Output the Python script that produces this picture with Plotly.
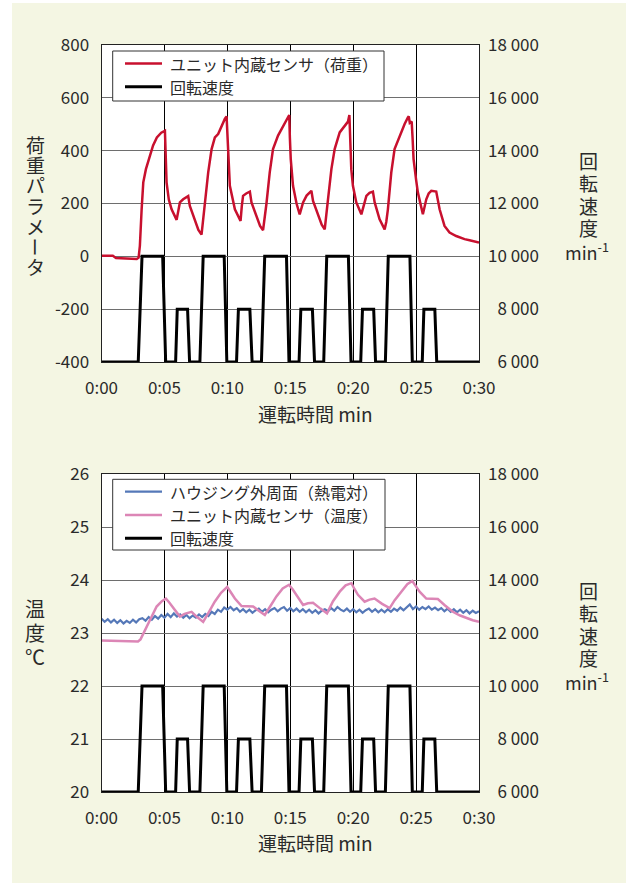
import plotly.graph_objects as go

# ---------------- data ----------------
x_tick_vals = [0, 5, 10, 15, 20, 25, 30]
x_tick_text = ["0:00", "0:05", "0:10", "0:15", "0:20", "0:25", "0:30"]
load_tick_vals = [-400, -200, 0, 200, 400, 600, 800]
load_tick_text = ["-400", "-200", "0", "200", "400", "600", "800"]
temp_tick_vals = [20, 21, 22, 23, 24, 25, 26]
temp_tick_text = ["20", "21", "22", "23", "24", "25", "26"]
rpm_tick_vals = [6000, 8000, 10000, 12000, 14000, 16000, 18000]
rpm_tick_text = ["\u20076 000", "\u20078 000", "10 000", "12 000", "14 000", "16 000", "18 000"]

speed_t = [0, 2.92, 3.22, 4.86, 5.10, 5.89, 6.02, 6.84, 7.00, 7.82, 8.08, 9.75, 9.96,
           10.73, 10.88, 11.79, 11.97, 12.71, 12.97, 14.70, 14.90, 15.70, 15.84, 16.76,
           16.93, 17.66, 17.90, 19.62, 19.83, 20.60, 20.74, 21.63, 21.78, 22.56, 22.79,
           24.51, 24.70, 25.49, 25.62, 26.49, 26.64, 30]
speed_v = [6000, 6000, 10000, 10000, 6000, 6000, 8000, 8000, 6000, 6000, 10000, 10000, 6000,
           6000, 8000, 8000, 6000, 6000, 10000, 10000, 6000, 6000, 8000, 8000,
           6000, 6000, 10000, 10000, 6000, 6000, 8000, 8000, 6000, 6000, 10000,
           10000, 6000, 6000, 8000, 8000, 6000, 6000]

load_t = [0, 0.9, 1.15, 2.0, 2.8, 2.95, 3.05, 3.19, 3.32, 3.53, 3.8, 4.1, 4.4, 4.75, 5.04,
          5.1, 5.17, 5.35, 5.57, 5.97, 6.1, 6.23, 6.49, 6.8, 6.89, 7.02, 7.42, 7.7, 7.95,
          8.08, 8.21, 8.48, 8.75, 9.01, 9.27, 9.54, 9.80, 9.94, 9.99, 10.06, 10.2, 10.6,
          11.05, 11.15, 11.25, 11.5, 11.79, 11.92, 12.32, 12.6, 12.84, 12.98, 13.11, 13.37,
          13.63, 14.03, 14.43, 14.83, 14.92, 14.97, 15.04, 15.22, 15.5, 15.75, 16.02, 16.3,
          16.68, 16.81, 17.21, 17.5, 17.74, 17.87, 18.0, 18.27, 18.53, 18.93, 19.33, 19.59,
          19.7, 19.76, 19.85, 19.98, 20.25, 20.65, 20.85, 21.05, 21.3, 21.57, 21.71, 22.1,
          22.5, 22.63, 22.76, 23.03, 23.29, 23.69, 24.09, 24.35, 24.42, 24.5, 24.65, 24.72,
          24.8, 25.0, 25.14, 25.54, 25.68, 25.81, 26.0, 26.21, 26.6, 26.87, 27.26, 27.66,
          28.19, 28.85, 29.25, 29.6, 30]
load_v = [2, 2, -6, -8, -10, -5, 40, 178, 280, 330, 375, 420, 450, 468, 475,
          400, 280, 215, 178, 138, 175, 204, 216, 225, 228, 191, 134, 100, 82,
          140, 204, 318, 406, 450, 463, 494, 520, 530, 470, 368, 267, 178,
          134, 190, 229, 238, 245, 204, 147, 115, 99, 150, 200, 318,
          406, 457, 494, 526, 535, 450, 368, 267, 200, 159, 204, 230,
          248, 210, 153, 120, 102, 150, 216, 330, 406, 469, 494, 510,
          535, 470, 330, 267, 204, 159, 200, 229, 240, 245, 204, 140,
          102, 130, 178, 318, 406, 457, 501, 526, 530, 505, 510, 450,
          368, 290, 242, 159, 190, 216, 238, 248, 245, 178, 115, 90,
          77, 65, 61, 56, 52]

temp_unit_t = [0, 1.0, 2.0, 2.9, 3.1, 3.4, 3.72, 4.0, 4.38, 4.8, 5.12, 5.4, 5.7, 6.0, 6.23,
               6.6, 7.16, 7.6, 8.08, 8.5, 9.0, 9.5, 9.99, 10.3, 10.6, 11.13, 11.6, 12.05,
               12.5, 12.98, 13.4, 13.9, 14.4, 14.9, 15.2, 15.5, 16.02, 16.4, 16.81, 17.4,
               17.92, 18.4, 18.93, 19.4, 19.86, 20.1, 20.38, 20.91, 21.3, 21.7, 22.3, 22.9,
               23.3, 23.83, 24.3, 24.7, 25.0, 25.28, 25.81, 26.2, 26.73, 27.3, 27.92, 28.5,
               28.98, 29.5, 30]
temp_unit_v = [22.86, 22.85, 22.84, 22.84, 22.88, 23.02, 23.18, 23.30, 23.50, 23.60, 23.65,
               23.57, 23.47, 23.38, 23.31, 23.36, 23.40, 23.30, 23.21, 23.38, 23.59, 23.76,
               23.87, 23.76, 23.65, 23.51, 23.50, 23.50, 23.42, 23.34, 23.50, 23.69, 23.84,
               23.91, 23.82, 23.72, 23.53, 23.56, 23.57, 23.46, 23.37, 23.60, 23.78, 23.90,
               23.94, 23.83, 23.72, 23.59, 23.63, 23.65, 23.55, 23.47, 23.62, 23.78, 23.92,
               23.98, 23.88, 23.78, 23.65, 23.65, 23.64, 23.52, 23.40, 23.33, 23.28, 23.24,
               23.21]

# housing outer surface, sampled every 0.25 min
temp_housing_v = [23.27, 23.21, 23.26, 23.20, 23.25, 23.19, 23.24, 23.18, 23.23, 23.19, 23.25, 23.20, 23.26,
                  23.28, 23.23, 23.30, 23.25, 23.32, 23.27, 23.34, 23.29,
                  23.36, 23.30, 23.37, 23.31, 23.35, 23.29, 23.34, 23.28, 23.33, 23.29, 23.35, 23.30,
                  23.36, 23.32, 23.40, 23.36, 23.44, 23.40, 23.48, 23.44,
                  23.49, 23.43, 23.47, 23.40, 23.45, 23.39, 23.44, 23.38,
                  23.43, 23.46, 23.40, 23.45, 23.39, 23.44, 23.47, 23.41,
                  23.46, 23.49, 23.42, 23.47, 23.41, 23.46, 23.40, 23.45,
                  23.39, 23.44, 23.38, 23.43, 23.37, 23.42, 23.45, 23.41,
                  23.47, 23.42, 23.49, 23.44, 23.41, 23.46, 23.40, 23.45,
                  23.39, 23.44, 23.38, 23.43, 23.46, 23.40, 23.45, 23.39,
                  23.44, 23.39, 23.45, 23.40, 23.46, 23.42, 23.48, 23.43,
                  23.49, 23.54, 23.45, 23.50, 23.44, 23.49, 23.45, 23.50,
                  23.44, 23.48, 23.43, 23.47, 23.41, 23.46, 23.40, 23.45,
                  23.39, 23.44, 23.38, 23.43, 23.37, 23.42, 23.38, 23.41]
temp_housing_t = [i * 0.25 for i in range(len(temp_housing_v))]

name_load = "ユニット内蔵センサ（荷重）"
name_speed = "回転速度"
name_housing = "ハウジング外周面（熱電対）"
name_unit_temp = "ユニット内蔵センサ（温度）"
x_title = "運転時間 min"
load_title = "荷重パラメータ"
temp_title = "温度℃"
rpm_title = "回転速度"
rpm_unit = "min<sup>-1</sup>"

# ---------------- style ----------------
W, H = 632, 883
FONT = "Noto Sans CJK JP, Noto Sans, sans-serif"
TXT = "#2a2a2a"
RED = "#c8102e"
BLUE = "#5578b8"
PINK = "#dc86b6"
BEIGE = "#f4f6e3"

def px_x(x):
    return x / W

def px_y(y):
    return 1 - y / H

xdom = [px_x(101.5), px_x(479)]
ydom_top = [px_y(362), px_y(45)]
ydom_bot = [px_y(792), px_y(474)]

series_top = [(load_t, load_v, name_load, RED, 2.5, "y"),
              (speed_t, speed_v, name_speed, "black", 3, "y2")]
series_bot = [(temp_housing_t, temp_housing_v, name_housing, BLUE, 2.2, "y3"),
              (temp_unit_t, temp_unit_v, name_unit_temp, PINK, 2.5, "y3"),
              (speed_t, speed_v, name_speed, "black", 3, "y4")]

fig = go.Figure()
for xs, ys, nm, col, lw, ya in series_top:
    fig.add_trace(go.Scatter(x=xs, y=ys, mode="lines", name=nm, line=dict(color=col, width=lw),
                             xaxis="x", yaxis=ya, showlegend=False))
for xs, ys, nm, col, lw, ya in series_bot:
    fig.add_trace(go.Scatter(x=xs, y=ys, mode="lines", name=nm, line=dict(color=col, width=lw),
                             xaxis="x2", yaxis=ya, showlegend=False))

xcommon = dict(range=[0, 30], tickvals=x_tick_vals, ticktext=x_tick_text, showgrid=True,
               gridcolor="black", gridwidth=1, showline=True, linecolor="#222", linewidth=1,
               mirror=True, ticks="", zeroline=False, domain=xdom, automargin=False,
               tickfont=dict(size=17, color=TXT, family=FONT), ticklabelstandoff=11)
ycommon = dict(showgrid=True, gridcolor="#6e6e6e", gridwidth=1, showline=True, linecolor="#222",
               linewidth=1, mirror=True, ticks="", zeroline=False, automargin=False,
               tickfont=dict(size=17, color=TXT, family=FONT), ticklabelstandoff=8)
rcommon = dict(range=[6000, 18000], tickvals=rpm_tick_vals, ticktext=rpm_tick_text,
               side="right", showgrid=False, zeroline=False, ticks="", automargin=False,
               tickfont=dict(size=17, color=TXT, family=FONT), ticklabelstandoff=8)

fig.update_layout(
    template="none",
    width=W, height=H, margin=dict(l=0, r=0, t=0, b=0, pad=0, autoexpand=False),
    paper_bgcolor="white", plot_bgcolor="white",
    font=dict(family=FONT, color=TXT),
    xaxis=dict(anchor="y", **xcommon),
    yaxis=dict(domain=ydom_top, range=[-400, 800], tickvals=load_tick_vals,
               ticktext=load_tick_text, anchor="x", **ycommon),
    yaxis2=dict(overlaying="y", anchor="x", **rcommon),
    xaxis2=dict(anchor="y3", **xcommon),
    yaxis3=dict(domain=ydom_bot, range=[20, 26], tickvals=temp_tick_vals,
                ticktext=temp_tick_text, anchor="x2", **ycommon),
    yaxis4=dict(overlaying="y3", anchor="x2", **rcommon),
    showlegend=False,
)

# background panel
fig.add_shape(type="rect", xref="paper", yref="paper", x0=px_x(12), x1=px_x(626), y0=0, y1=px_y(3),
              fillcolor=BEIGE, line=dict(width=0), layer="below")
for xr, yr in (("x domain", "y domain"), ("x2 domain", "y3 domain")):
    fig.add_shape(type="rect", xref=xr, yref=yr, x0=0, x1=1, y0=0, y1=1,
                  fillcolor="white", line=dict(width=0), layer="below")

def ann(text, x, y, size, angle=0, xanchor="center"):
    fig.add_annotation(text=text, x=px_x(x), y=px_y(y), xref="paper", yref="paper",
                       showarrow=False, xanchor=xanchor, yanchor="middle", textangle=angle,
                       font=dict(size=size, color=TXT, family=FONT))

# legends (drawn as boxed keys)
def legend_box(series, x0, y0, x1, y1, rows):
    fig.add_shape(type="rect", xref="paper", yref="paper", x0=px_x(x0), x1=px_x(x1),
                  y0=px_y(y1), y1=px_y(y0), fillcolor="white", line=dict(color="#333", width=1))
    for (xs, ys, nm, col, lw, ya), ry in zip(series, rows):
        fig.add_shape(type="line", xref="paper", yref="paper", x0=px_x(125), x1=px_x(162),
                      y0=px_y(ry), y1=px_y(ry), line=dict(color=col, width=lw))
        ann(nm, 168, ry, 16, xanchor="left")

legend_box(series_top, 112.7, 51, 384, 101, [63.5, 86.7])
legend_box(series_bot, 112.7, 479.3, 385, 550, [491.7, 515, 538.3])

# x titles
ann(x_title, 315, 414, 19)
ann(x_title, 315, 842, 19)

# left titles (stacked vertical text, one glyph per line)
for i, ch in enumerate(load_title):
    ann(ch, 35, 144 + i * 20.5, 19, 90 if ch == "ー" else 0)
for i, ch in enumerate(temp_title):
    ann(ch, 35, 608 + i * 24, 20)

# right titles
for base in (160, 590):
    for i, ch in enumerate(rpm_title):
        ann(ch, 588, base + i * 22.5, 19)
    ann(rpm_unit, 587, base + 91, 18)

fig.write_html("out.html", config={"displayModeBar": False},
               post_script="document.body.style.margin='0';")
